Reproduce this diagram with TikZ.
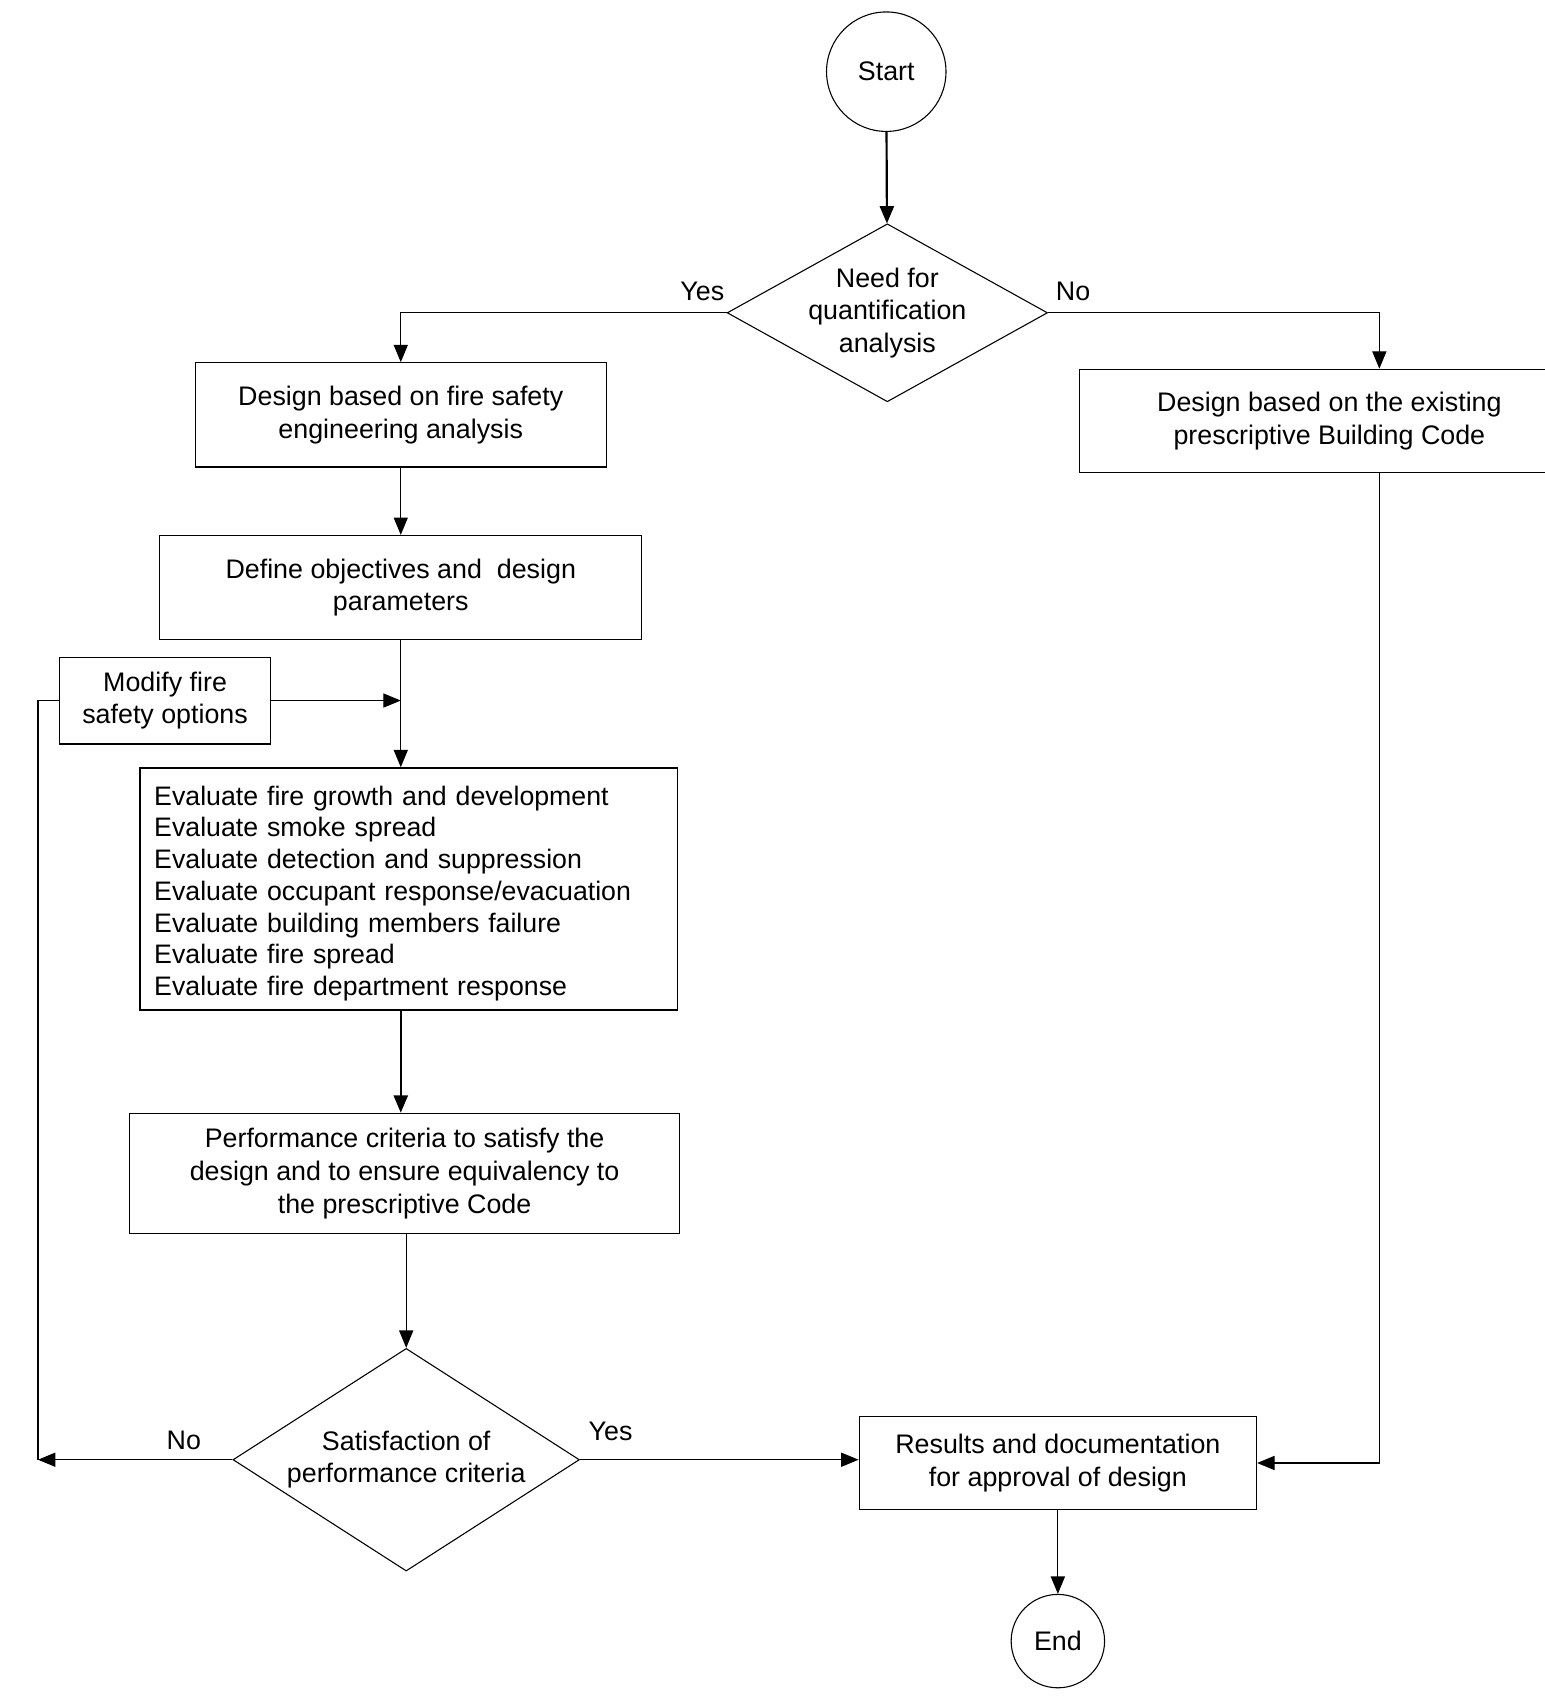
\documentclass[tikz,border=0pt]{standalone}
\usepackage{fontspec}
\setmainfont{Liberation Sans}
\usetikzlibrary{calc,positioning,shapes,arrows.meta}

\begin{document}
\begin{tikzpicture}[x=0.5pt,y=-0.5pt,
		font=\fontsize{12.35}{15}\selectfont,
		line width=0.5pt,
		>={Triangle[length=8pt,width=6.5pt]},
		block/.style={shape=rectangle,draw,align=center,inner sep=0pt},
		decision/.style={shape=diamond,draw,align=center,inner sep=0pt},
		terminal/.style={shape=circle,draw,inner sep=0pt},
		heavy/.style={line width=1pt}]
		\useasboundingbox (0,0) rectangle (1422,1568);
		% nodes
		\node(start) [terminal,minimum size=55pt] at (816,66) {Start};
		\node(need) [decision,aspect=1.8,minimum width=147pt,minimum height=81.5pt] at (817,288) {Need for\\quantification\\analysis};
		\node(fsea) [block,minimum width=189pt,minimum height=48pt] at (369,382) {Design based on fire safety\\engineering analysis};
		\node(obj) [block,below=31pt of fsea,minimum width=222pt,minimum height=48pt] {Define objectives and~ design\\parameters};
		\node(modify) [block,minimum width=97pt,minimum height=40pt] at (152,645) {Modify fire\\safety options};
		\node(eval) [block,align=left,text width=234.5pt,inner xsep=6.5pt,minimum height=111.5pt,line width=0.6pt,
			font=\fontsize{12.3}{14.6}\selectfont] at (376.5,818.5) {\rule{0pt}{13pt}Evaluate fire growth and development\\Evaluate smoke spread\\Evaluate detection and suppression\\Evaluate occupant response/evacuation\\Evaluate building members failure\\Evaluate fire spread\\Evaluate fire department response};
		\node(perf) [block,minimum width=253.5pt,minimum height=55.5pt] at (372.5,1080.5) {Performance criteria to satisfy the\\design and to ensure equivalency to\\the prescriptive Code};
		\node(sat) [decision,aspect=1.556,minimum width=159.5pt,minimum height=102.5pt] at (374,1344) {Satisfaction of\\performance criteria};
		\node(code) [block,minimum width=230pt,minimum height=47.5pt] at (1224,387.5) {Design based on the existing\\prescriptive Building Code};
		\node(results) [block,minimum width=183pt,minimum height=43pt] at (974,1347) {Results and documentation\\for approval of design};
		\node(end) [terminal,below=38.5pt of results,minimum size=43pt] {End};
		\coordinate (back) at (35,1344);
		% connectors
		\draw[->,heavy] (start) -- (need);
		\draw[->] (need.west) -| (fsea.north) node [pos=0,anchor=south east,xshift=2.5pt,yshift=2pt] {Yes};
		\draw[->] (need.east) -| ([xshift=23pt]code.north) node [pos=0,anchor=south west,yshift=2pt] {No};
		\draw[->] (fsea) -- (obj);
		\draw[->] (obj.south) -- (obj.south |- eval.north);
		\draw[->] (modify.east) -- (modify.east -| obj.south);
		\draw[->,heavy] (obj.south |- eval.south) -- (obj.south |- perf.north);
		\draw[->] (perf.south -| sat.north) -- (sat.north);
		\draw[->] (sat.west) -- (back) node [pos=0.25,above=1pt] {No};
		\draw (back) |- (modify.west);
		\draw[->] (sat.east) -- (sat.east -| results.west) node [pos=0.11,above=5pt] {Yes};
		\draw[->] ([xshift=23pt]code.south) |- (results.east);
		\draw[->] (results) -- (end);
\end{tikzpicture}
\end{document}
